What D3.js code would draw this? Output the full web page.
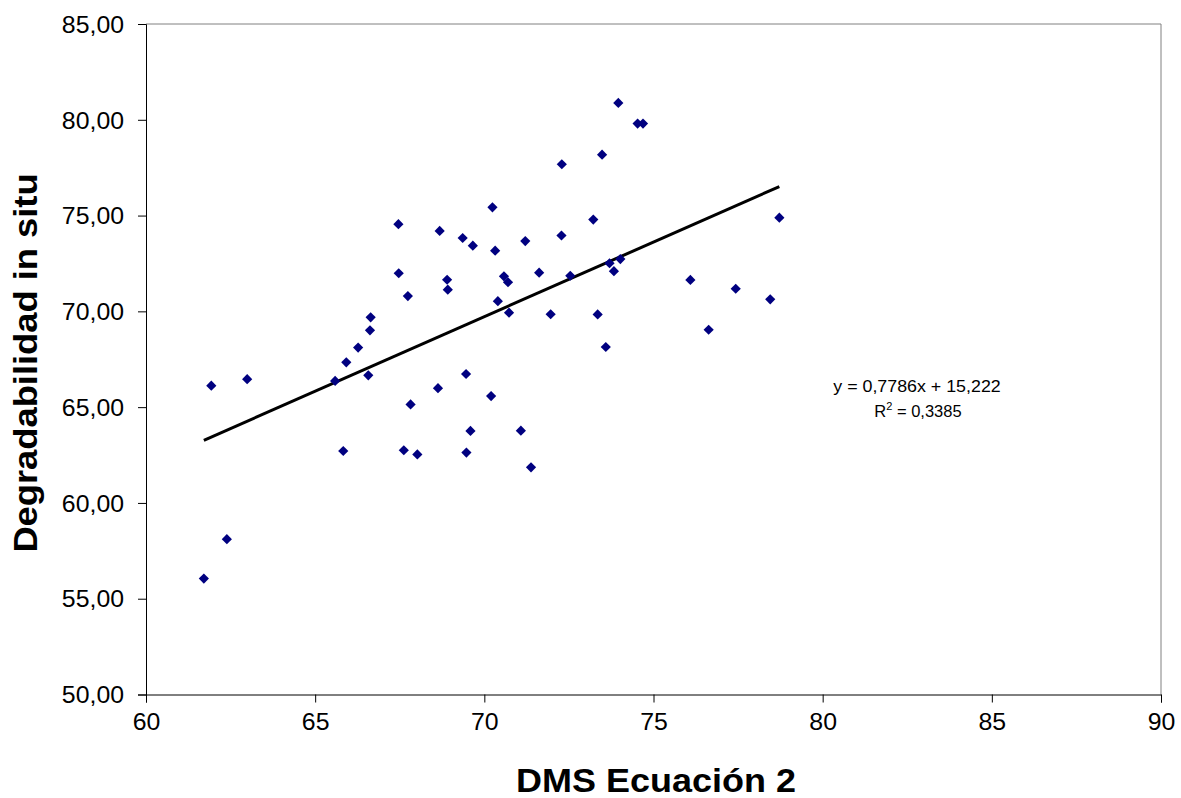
<!DOCTYPE html>
<html>
<head>
<meta charset="utf-8">
<script src="https://cdn.jsdelivr.net/npm/d3@7"></script>
<style>
  body { margin: 0; background: #fff; }
  svg { display: block; font-family: "Liberation Sans", Arial, sans-serif; }
</style>
</head>
<body>
<svg id="chart" width="1181" height="798"></svg>
<script>
// DMS Ecuacion 2 (x) vs degradabilidad in situ (y)
const dmsValues = [61.71, 61.93, 62.39, 62.99, 65.59, 65.83, 65.92, 66.27, 66.64, 66.62,
  66.57, 67.46, 67.47, 67.74, 67.82, 67.62, 68.02, 68.63, 68.68, 68.90,
  68.92, 69.36, 69.46, 69.47, 69.59, 69.66, 70.20, 70.24, 70.32, 70.40,
  70.58, 70.70, 70.73, 71.08, 71.21, 71.38, 71.62, 71.96, 72.28, 72.29,
  72.54, 73.22, 73.35, 73.48, 73.59, 73.70, 73.83, 73.96, 74.02, 74.53,
  74.69, 76.09, 76.63, 77.43, 78.45, 78.72];
const degValues = [56.05, 66.12, 58.11, 66.46, 66.37, 62.71, 67.34, 68.11, 69.69, 69.01,
  66.66, 74.55, 71.99, 70.80, 65.14, 62.75, 62.53, 65.99, 74.20, 71.65,
  71.13, 73.83, 66.73, 62.63, 63.76, 73.43, 65.58, 75.43, 73.17, 70.53,
  71.83, 71.52, 69.93, 63.77, 73.67, 61.86, 72.02, 69.85, 73.96, 77.68,
  71.86, 74.79, 69.84, 78.18, 68.14, 72.51, 72.10, 80.88, 72.73, 79.80,
  79.80, 71.64, 69.04, 71.18, 70.63, 74.89];
const xTicks = [60, 65, 70, 75, 80, 85, 90];
const yTicks = [50, 55, 60, 65, 70, 75, 80, 85];
const slope = 0.7786, intercept = 15.222, rSquared = "0,3385";

const svg = d3.select("#chart");
const pLeft = 146, pRight = 1161, pTop = 24, pBottom = 694.5;

const x = d3.scaleLinear().domain([60, 90]).range([pLeft, pRight]);
const y = d3.scaleLinear().domain([50, 85]).range([pBottom, pTop]);
const comma = d => d3.format(".2f")(d).replace(".", ",");

// the original text is a bit wider than Arial, stretch it
function stretch(sel, k) {
  sel.each(function () {
    const w = this.getComputedTextLength();
    d3.select(this).attr("textLength", w * k).attr("lengthAdjust", "spacingAndGlyphs");
  });
}

// plot area frame (top/right grey)
svg.append("path")
  .attr("d", `M${pLeft},${pTop}H${pRight}V${pBottom}`)
  .attr("fill", "none").attr("stroke", "#808080").attr("stroke-width", 1);

const xAxis = svg.append("g")
  .attr("transform", `translate(0,${pBottom})`)
  .call(d3.axisBottom(x).tickValues(xTicks).tickSize(8).tickPadding(11).tickFormat(d3.format("d")));
const yAxis = svg.append("g")
  .attr("transform", `translate(${pLeft},0)`)
  .call(d3.axisLeft(y).tickValues(yTicks).tickSize(8).tickPadding(14).tickFormat(comma));

[xAxis, yAxis].forEach(g => {
  g.select(".domain").attr("stroke", "#000");
  g.selectAll(".tick line").attr("stroke", "#000");
  g.selectAll("text").attr("font-size", 23).attr("fill", "#000")
    .attr("font-family", "Liberation Sans, Arial, sans-serif");
  stretch(g.selectAll("text"), 1.08);
});
yAxis.selectAll("text").attr("dy", "0.36em");

// trend line from the equation, over the data range
const xs = d3.extent(dmsValues);
svg.append("line")
  .attr("x1", x(xs[0])).attr("y1", y(slope * xs[0] + intercept))
  .attr("x2", x(xs[1])).attr("y2", y(slope * xs[1] + intercept))
  .attr("stroke", "#000").attr("stroke-width", 3);

const diamond = d3.symbol().type(d3.symbolSquare).size(52);
svg.append("g").selectAll("path")
  .data(dmsValues)
  .join("path")
  .attr("d", diamond)
  .attr("transform", (d, i) => `translate(${x(d)},${y(degValues[i])}) rotate(45)`)
  .attr("fill", "#000080");

// equation label
const eq = svg.append("text")
  .attr("x", 917).attr("y", 392)
  .attr("text-anchor", "middle").attr("font-size", 16.5)
  .text("y = 0,7786x + 15,222");
stretch(eq, 1.08);
const r2 = svg.append("text")
  .attr("x", 918).attr("y", 417)
  .attr("text-anchor", "middle").attr("font-size", 16.5);
r2.append("tspan").text("R");
r2.append("tspan").attr("font-size", 11).attr("dy", -7).text("2");
r2.append("tspan").attr("dy", 7).text(" = " + rSquared);

// axis titles
const xTitle = svg.append("text")
  .attr("x", 656).attr("y", 792)
  .attr("text-anchor", "middle").attr("font-size", 33).attr("font-weight", "bold")
  .text("DMS Ecuación 2");
stretch(xTitle, 1.09);
const yTitle = svg.append("text")
  .attr("transform", "translate(37,363) rotate(-90)")
  .attr("text-anchor", "middle").attr("font-size", 33).attr("font-weight", "bold")
  .text("Degradabilidad in situ");
stretch(yTitle, 1.1);
</script>
</body>
</html>
